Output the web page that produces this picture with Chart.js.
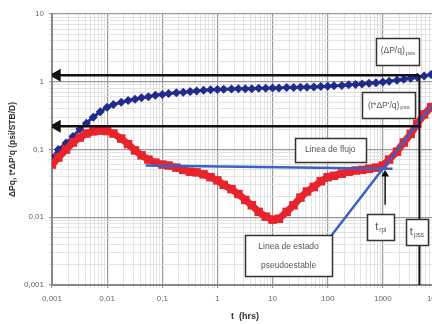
<!DOCTYPE html>
<html lang="es">
<head>
<meta charset="UTF-8">
<script src="https://cdn.jsdelivr.net/npm/chart.js@4.4.0/dist/chart.umd.min.js"></script>
<title>Derivada de presion</title>
<style>
  html, body { margin: 0; padding: 0; background: #fff; overflow: hidden; }
  #wrap { width: 460px; height: 324px; }
</style>
</head>
<body>
<div id="wrap"><canvas id="grafico"></canvas></div>
<script>
// tiempos (hrs)
var tiempos = [0.001, 0.0013, 0.0018, 0.0024, 0.0032, 0.0042, 0.0056, 0.0075,
  0.01, 0.013, 0.018, 0.024, 0.032, 0.042, 0.056, 0.075,
  0.1, 0.13, 0.18, 0.24, 0.32, 0.42, 0.56, 0.75,
  1, 1.3, 1.8, 2.4, 3.2, 4.2, 5.6, 7.5,
  10, 13, 18, 24, 32, 42, 56, 75,
  100, 130, 180, 240, 320, 420, 560, 750,
  1000, 1300, 1800, 2400, 3200, 4200, 5600, 7500];

// presion normalizada (azul)
var presion = [0.075, 0.1, 0.125, 0.155, 0.2, 0.245, 0.3, 0.36,
  0.42, 0.46, 0.5, 0.53, 0.55, 0.58, 0.6, 0.63,
  0.65, 0.67, 0.69, 0.7, 0.72, 0.73, 0.75, 0.76,
  0.77, 0.775, 0.78, 0.785, 0.79, 0.79, 0.8, 0.8,
  0.81, 0.81, 0.82, 0.82, 0.83, 0.83, 0.84, 0.85,
  0.86, 0.87, 0.88, 0.9, 0.91, 0.93, 0.95, 0.97,
  0.99, 1.02, 1.05, 1.09, 1.13, 1.17, 1.22, 1.28];

// derivada (rojo)
var derivada = [0.06, 0.076, 0.1, 0.127, 0.15, 0.172, 0.185, 0.19,
  0.187, 0.172, 0.145, 0.12, 0.097, 0.082, 0.071, 0.064,
  0.06, 0.058, 0.054, 0.05, 0.047, 0.046, 0.043, 0.039,
  0.035, 0.03, 0.026, 0.022, 0.018, 0.015, 0.012, 0.0102,
  0.0092, 0.0095, 0.012, 0.015, 0.0195, 0.024, 0.028, 0.034,
  0.039, 0.041, 0.044, 0.047, 0.049, 0.05, 0.052, 0.054,
  0.058, 0.071, 0.093, 0.127, 0.17, 0.24, 0.33, 0.42];

// lineas de referencia
var flechaSupT = [0.00123, 4600], flechaSupV = [1.25, 1.25];
var flechaInfT = [0.00123, 4400], flechaInfV = [0.22, 0.22];
var tpssT = [4600, 4600], tpssV = [1.25, 0.001];
var trpiT = [1100, 1100], trpiV = [0.0153, 0.043];
var flujoT = [0.05, 1500], flujoV = [0.058, 0.052];
var pseudoT = [115, 7500], pseudoV = [0.0053, 0.44];

// ejes
var xMarcas = [0.001, 0.01, 0.1, 1, 10, 100, 1000, 10000];
var xEtiquetas = ['0,001', '0,01', '0,1', '1', '10', '100', '1000', '10000'];
var yMarcas = [0.001, 0.01, 0.1, 1, 10];
var yEtiquetas = ['0,001', '0,01', '0,1', '1', '10'];

function pares(t, v) {
  return t.map(function (x, i) { return { x: x, y: v[i] }; });
}

function marcasLog(lista) {
  var out = [];
  for (var i = 0; i < lista.length; i++) {
    var dec = lista[i];
    out.push({ value: dec });
    if (i < lista.length - 1) {
      for (var k = 2; k <= 9; k++) out.push({ value: +(dec * k).toPrecision(3) });
    }
  }
  return out;
}

function esDecada(v) {
  var l = Math.log10(v);
  return Math.abs(l - Math.round(l)) < 1e-6;
}

function etiqueta(marcas, etiquetas) {
  return function (v) {
    for (var i = 0; i < marcas.length; i++) {
      if (Math.abs(v - marcas[i]) / marcas[i] < 1e-6) return etiquetas[i];
    }
    return '';
  };
}

var fuente = "'Liberation Sans Narrow', 'Liberation Sans', Arial, sans-serif";

// cajas de texto
var cajas = [
  { t: 1870, v: 2.83, w: 43, h: 27, lineas: [['(ΔP/q)', 'pss']] },
  { t: 1280, v: 0.45, w: 53, h: 26, lineas: [["(t*ΔP'/q)", 'pss']] },
  { t: 111, v: 0.1, w: 71, h: 24, lineas: [['Linea de flujo', '']] },
  { t: 19.5, v: 0.0027, w: 87, h: 41, lineas: [['Linea de estado', ''], ['pseudoestable', '']] },
  { t: 920, v: 0.0072, w: 27, h: 26, lineas: [['t', 'rpi']], grande: true },
  { t: 4150, v: 0.0061, w: 22, h: 26, lineas: [['t', 'pss']], grande: true }
];

var pluginCajas = {
  id: 'cajas',
  afterDraw: function (chart) {
    var ctx = chart.ctx, sx = chart.scales.x, sy = chart.scales.y;
    ctx.save();
    cajas.forEach(function (c) {
      var cx = sx.getPixelForValue(c.t), cy = sy.getPixelForValue(c.v);
      var x0 = Math.round(cx - c.w / 2) + 0.5, y0 = Math.round(cy - c.h / 2) + 0.5;
      ctx.fillStyle = '#fff';
      ctx.fillRect(x0, y0, c.w, c.h);
      ctx.strokeStyle = '#333';
      ctx.lineWidth = 1.5;
      ctx.strokeRect(x0, y0, c.w, c.h);
      var tam = c.grande ? 11 : 8.5;
      var sub = c.grande ? 6.5 : 6;
      var alto = c.lineas.length > 1 ? 19 : 0;
      c.lineas.forEach(function (ln, i) {
        ctx.font = tam + 'px ' + fuente;
        var w1 = ctx.measureText(ln[0]).width;
        ctx.font = sub + 'px ' + fuente;
        var w2 = ln[1] ? ctx.measureText(ln[1]).width + 1 : 0;
        var lx = cx - (w1 + w2) / 2;
        var ly = cy - alto / 2 + i * alto;
        ctx.fillStyle = '#555';
        ctx.textBaseline = 'middle';
        ctx.textAlign = 'left';
        ctx.font = tam + 'px ' + fuente;
        ctx.fillText(ln[0], lx, ly);
        if (ln[1]) {
          ctx.font = sub + 'px ' + fuente;
          ctx.fillText(ln[1], lx + w1 + 1, ly + tam * 0.3);
        }
      });
    });
    ctx.restore();
  }
};

var negro = '#111';
var azulRef = '#3a62c6';

new Chart(document.getElementById('grafico'), {
  type: 'scatter',
  data: {
    datasets: [
      { data: pares(flechaSupT, flechaSupV), showLine: true, borderColor: negro, borderWidth: 2.5,
        pointRadius: [5, 0], pointStyle: 'triangle', pointRotation: -90, backgroundColor: negro, pointBorderColor: negro },
      { data: pares(flechaInfT, flechaInfV), showLine: true, borderColor: negro, borderWidth: 2.5,
        pointRadius: [5, 0], pointStyle: 'triangle', pointRotation: -90, backgroundColor: negro, pointBorderColor: negro },
      { data: pares(tpssT, tpssV), showLine: true, borderColor: negro, borderWidth: 2, pointRadius: 0 },
      { data: pares(trpiT, trpiV), showLine: true, borderColor: negro, borderWidth: 1.5,
        pointRadius: [0, 3], pointStyle: 'triangle', backgroundColor: negro, pointBorderColor: negro },
      { data: pares(flujoT, flujoV), showLine: true, borderColor: azulRef, borderWidth: 2.5, pointRadius: 0 },
      { data: pares(pseudoT, pseudoV), showLine: true, borderColor: azulRef, borderWidth: 2.5, pointRadius: 0 },
      { data: pares(tiempos, derivada), showLine: true, borderColor: '#e8232c', borderWidth: 7,
        pointStyle: 'rect', pointRadius: 6, pointBorderWidth: 0, backgroundColor: '#e8232c' },
      { data: pares(tiempos, presion), showLine: true, borderColor: '#1f2c8c', borderWidth: 3,
        pointStyle: 'rectRot', pointRadius: 4.5, pointBorderWidth: 0, backgroundColor: '#1f2c8c' }
    ]
  },
  options: {
    responsive: true,
    maintainAspectRatio: false,
    animation: false,
    layout: { padding: { top: 14, right: 22, left: 0, bottom: 0 } },
    plugins: { legend: { display: false }, tooltip: { enabled: false } },
    scales: {
      x: {
        type: 'logarithmic', min: 0.001, max: 10000,
        afterBuildTicks: function (s) { s.ticks = marcasLog(xMarcas); },
        afterFit: function (s) { s.height = 39; },
        ticks: { autoSkip: false, maxRotation: 0, color: '#666', padding: 6,
          font: { family: fuente, size: 8 }, callback: etiqueta(xMarcas, xEtiquetas) },
        grid: {
          color: function (c) { return esDecada(c.tick.value) ? '#9a9a9a' : '#dcdcdc'; },
          lineWidth: function (c) { return esDecada(c.tick.value) ? 1.2 : 0.8; },
          tickLength: 3
        },
        border: { color: '#888', width: 2 },
        title: { display: true, text: 't  (hrs)', color: '#333', padding: { top: 0, bottom: 2 },
          font: { family: fuente, size: 9, weight: 'bold' } }
      },
      y: {
        type: 'logarithmic', min: 0.001, max: 10,
        afterBuildTicks: function (s) { s.ticks = marcasLog(yMarcas); },
        afterFit: function (s) { s.width = 52; },
        ticks: { autoSkip: false, color: '#666', padding: 5,
          font: { family: fuente, size: 8 }, callback: etiqueta(yMarcas, yEtiquetas) },
        grid: {
          color: function (c) { return esDecada(c.tick.value) ? '#9a9a9a' : '#dcdcdc'; },
          lineWidth: function (c) { return esDecada(c.tick.value) ? 1.2 : 0.8; },
          tickLength: 3
        },
        border: { color: '#888', width: 2 },
        title: { display: true, text: "ΔPq, t*ΔP'q (psi/STB/D)", color: '#333', padding: { top: 8, bottom: 0 },
          font: { family: fuente, size: 8.5, weight: 'bold' } }
      }
    }
  },
  plugins: [pluginCajas]
});
</script>
</body>
</html>
